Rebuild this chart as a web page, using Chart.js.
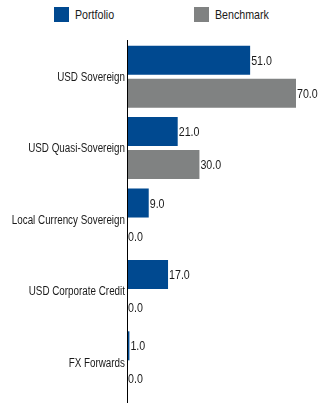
<!DOCTYPE html>
<html>
<head>
<meta charset="utf-8">
<script src="https://cdn.jsdelivr.net/npm/chart.js@4"></script>
<style>
  body { margin: 0; background: #fff; font-family: "Liberation Sans", Arial, sans-serif; }
  #wrap { position: relative; width: 325px; height: 403px; }
  #legend { position: absolute; left: 0; top: 0; width: 325px; height: 40px; }
  .item { position: absolute; top: 7px; height: 15px; display: flex; align-items: center; font-size: 13px; color: #1a1a1a; }
  .box { width: 15px; height: 15px; margin-right: 6px; flex: none; }
  .txt { display: inline-block; transform: scaleX(0.82); transform-origin: left center; white-space: nowrap; }
  #chartBox { position: absolute; left: 0; top: 40px; width: 325px; height: 363px; }
</style>
</head>
<body>
<div id="wrap">
  <div id="legend"></div>
  <div id="chartBox"><canvas id="allocChart"></canvas></div>
</div>
<script>
const categories = ['USD Sovereign', 'USD Quasi-Sovereign', 'Local Currency Sovereign', 'USD Corporate Credit', 'FX Forwards'];
const portfolio = [51.0, 21.0, 9.0, 17.0, 1.0];
const benchmark = [70.0, 30.0, 0.0, 0.0, 0.0];
const seriesNames = ['Portfolio', 'Benchmark'];
const seriesColors = ['#004990', '#808282'];

const NARROW = 0.82; // el original usa una fuente condensada
const FONT = '"Liberation Sans", Arial, sans-serif';

// Leyenda en HTML
const legendEl = document.getElementById('legend');
const legendLeft = [54, 194];
legendEl.innerHTML = seriesNames.map((name, i) => `
    <div class="item" style="left:${legendLeft[i]}px">
        <span class="box" style="background:${seriesColors[i]}"></span><span class="txt">${name}</span>
    </div>
`).join('');

// Línea del eje (de arriba abajo del lienzo), etiquetas condensadas y valores
const narrowText = {
    id: 'narrowText',
    afterDatasetsDraw(chart) {
        const ctx = chart.ctx;
        const yScale = chart.scales.y;
        ctx.save();
        ctx.strokeStyle = '#000';
        ctx.lineWidth = 1;
        ctx.beginPath();
        ctx.moveTo(yScale.right + 0.5, 0);
        ctx.lineTo(yScale.right + 0.5, chart.height);
        ctx.stroke();

        ctx.scale(NARROW, 1);
        ctx.fillStyle = '#1a1a1a';
        ctx.textBaseline = 'middle';

        ctx.font = '12px ' + FONT;
        ctx.textAlign = 'right';
        chart.data.labels.forEach((label, i) => {
            ctx.fillText(label, (yScale.right - 2) / NARROW, yScale.getPixelForTick(i) + 1);
        });

        ctx.font = '13px ' + FONT;
        ctx.textAlign = 'left';
        chart.data.datasets.forEach((ds, i) => {
            chart.getDatasetMeta(i).data.forEach((bar, j) => {
                ctx.fillText(ds.data[j].toFixed(1), (bar.x + 1) / NARROW, bar.y + 1);
            });
        });
        ctx.restore();
    }
};

new Chart(document.getElementById('allocChart'), {
    type: 'bar',
    data: {
        labels: categories,
        datasets: [
            { label: seriesNames[0], data: portfolio, backgroundColor: seriesColors[0] },
            { label: seriesNames[1], data: benchmark, backgroundColor: seriesColors[1] }
        ]
    },
    options: {
        indexAxis: 'y',
        responsive: true,
        maintainAspectRatio: false,
        animation: false,
        categoryPercentage: 0.924,
        barPercentage: 0.88,
        layout: { padding: { top: 1, right: 29, bottom: 5, left: 0 } },
        plugins: { legend: { display: false }, tooltip: { enabled: false } },
        scales: {
            x: { display: false, min: 0, max: 70 },
            y: {
                grid: { display: false, drawTicks: false },
                border: { display: false },
                ticks: { display: false },
                afterFit: (scale) => { scale.width = 127; }
            }
        }
    },
    plugins: [narrowText]
});
</script>
</body>
</html>
